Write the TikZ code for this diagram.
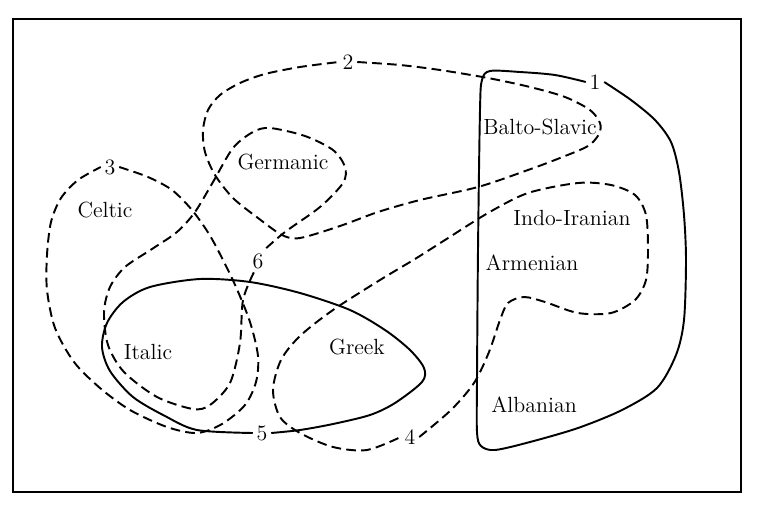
\documentclass[tikz,border=0pt]{standalone}
\usetikzlibrary{positioning}

\tikzset{
  gloss/.style={line width=1.1pt, line join=round},
  dgloss/.style={gloss, dash pattern=on 5.5pt off 3pt},
  lang/.style={font=\fontsize{12.5}{15}\selectfont, inner sep=1pt},
  num/.style={font=\fontsize{12.5}{15}\selectfont, inner sep=2pt}
}

\begin{document}
\begin{tikzpicture}[x=0.02cm, y=-0.02cm]
\useasboundingbox (0,0) rectangle (758,511);
\draw[line width=1.2pt] (13,19) rectangle (741,492);

% languages
\node[lang] (celtic) at (105,210) {Celtic};
\node[lang] (germanic) at (283,162) {Germanic};
\node[lang] (balto) at (540,127) {Balto-Slavic};
\node[lang] (indo) at (572,218) {Indo-Iranian};
\node[lang] (armenian) at (532,263) {Armenian};
\node[lang] (albanian) at (534,405) {Albanian};
\node[lang] (greek) at (357,347) {Greek};
\node[lang] (italic) at (148,352) {Italic};

% isogloss numbers
\node[num] (n1) at (595,82) {1};
\node[num] (n2) at (348,62) {2};
\node[num] (n3) at (110,167) {3};
\node[num] (n4) at (410,437) {4};
\node[num] (n5) at (262,433) {5};
\node[num] (n6) at (258,261) {6};

% 1
\draw[gloss] plot[smooth, tension=0.5] coordinates {(n1.east) (631,100) (655,120) (671,142) (679,172) (684,215) (686,260) (684,320) (676,355) (657,388) (622,410) (578,428) (530,442) (495,450) (481,446) (477,432) (477,380) (478,250) (480,110) (482,80) (490,71) (520,72) (555,75) (n1.west)};
% 2
\draw[dgloss] plot[smooth] coordinates {(n2.east) (400,65) (440,70) (488,78) (530,87) (565,97) (590,110) (600,123) (599,134) (588,146) (560,158) (528,170) (478,187) (420,200) (378,212) (340,226) (300,238) (282,235) (258,218) (233,198) (215,175) (205,152) (203,130) (208,110) (220,95) (240,83) (265,74) (300,67) (n2.west)};
% 3
\draw[dgloss] plot[smooth] coordinates {(n3.east) (148,177) (172,190) (192,210) (209,234) (222,258) (236,287) (250,322) (258,356) (256,382) (245,405) (222,424) (197,433) (167,427) (130,410) (100,388) (74,362) (55,328) (47,290) (47,255) (51,222) (61,198) (78,180) (n3.west)};
% 4
\draw[dgloss] plot[smooth] coordinates {(n4.east) (451,410) (474,383) (489,352) (500,320) (508,303) (524,297) (545,302) (578,313) (611,313) (635,300) (646,280) (648,250) (646,215) (635,195) (611,185) (578,183) (528,193) (488,213) (445,240) (415,259) (380,280) (333,310) (300,336) (281,360) (273,390) (280,417) (300,433) (333,447) (367,450) (n4.west)};
% 5
\draw[gloss] plot[smooth] coordinates {(n5.west) (197,430) (165,416) (133,397) (110,371) (102,347) (107,323) (123,302) (150,287) (200,279) (250,282) (300,293) (350,310) (385,330) (410,350) (424,368) (422,382) (395,403) (370,415) (333,424) (300,430) (n5.east)};
% 6
\draw[dgloss] plot[smooth] coordinates {(n6.250) (243,300) (240,343) (230,383) (210,405) (193,409) (157,397) (124,372) (108,345) (104,312) (110,287) (125,267) (152,249) (177,232) (195,212) (213,182) (233,148) (253,132) (270,128) (305,136) (333,150) (345,167) (343,183) (320,207) (285,232) (n6.60)};
\end{tikzpicture}
\end{document}
